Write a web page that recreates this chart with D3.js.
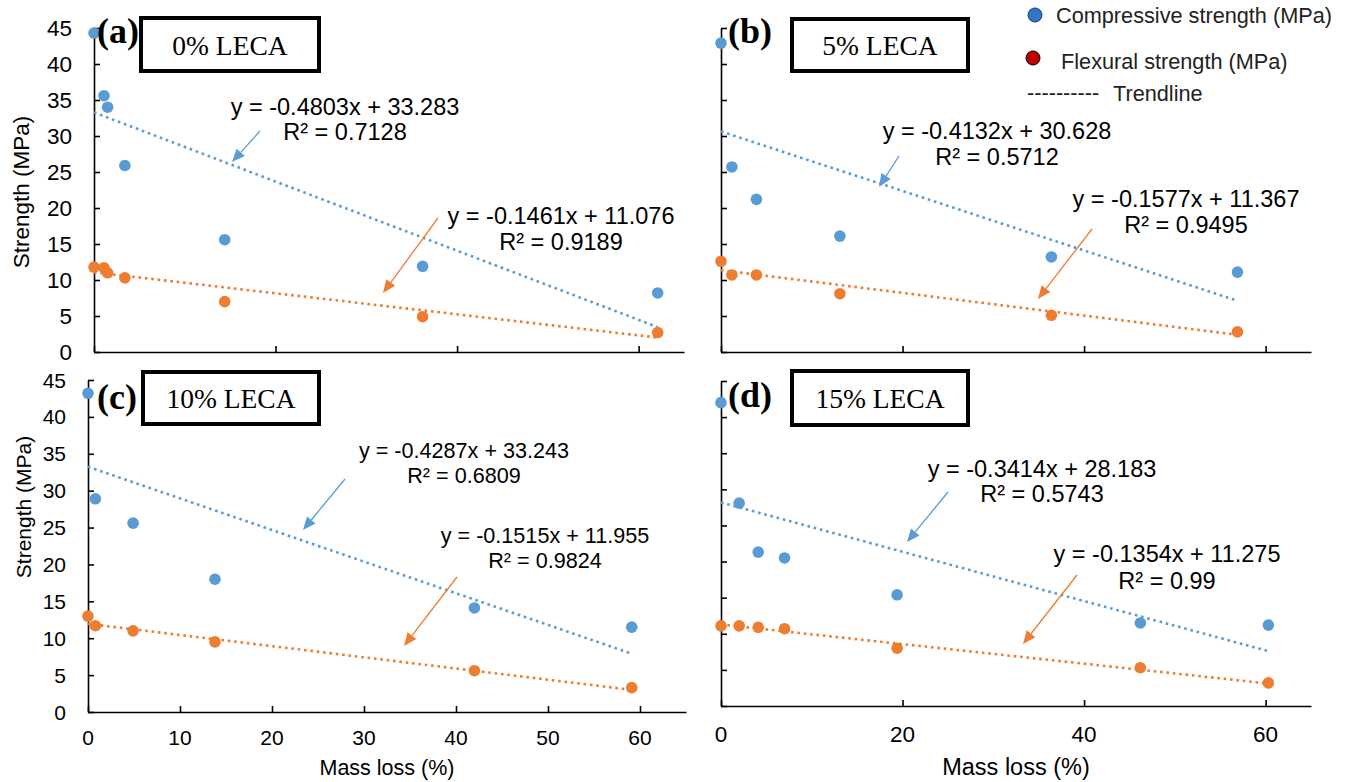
<!DOCTYPE html>
<html>
<head>
<meta charset="utf-8">
<script src="https://cdn.jsdelivr.net/npm/d3@7"></script>
<style>
  body { margin: 0; background: #fff; }
  svg { display: block; }
  text { font-family: "Liberation Sans", Arial, sans-serif; fill: #000; }
</style>
</head>
<body>
<div id="chart"></div>
<script>
// values
const massA = [0, 1.1, 1.5, 3.4, 14.4, 36.2, 62.1]
const compA = [44.3, 35.6, 34.0, 25.9, 15.6, 11.9, 8.2]
const flexA = [11.8, 11.7, 11.0, 10.3, 7.0, 4.9, 2.7]

const massB = [0, 1.2, 3.9, 13.1, 36.4, 56.9]
const compB = [42.9, 25.7, 21.2, 16.1, 13.2, 11.1]
const flexB = [12.6, 10.7, 10.7, 8.1, 5.1, 2.8]

const massC = [0, 0.8, 4.9, 13.8, 42.0, 59.1]
const compC = [43.2, 28.9, 25.6, 18.0, 14.1, 11.5]
const flexC = [13.0, 11.7, 11.0, 9.5, 5.6, 3.3]

const massD = [0, 2.0, 4.1, 7.0, 19.4, 46.2, 60.3]
const compD = [42.0, 28.1, 21.3, 20.5, 15.4, 11.5, 11.2]
const flexD = [11.1, 11.1, 10.9, 10.7, 8.0, 5.3, 3.2]

const compSlope = [-0.4803, -0.4132, -0.4287, -0.3414]
const compIntercept = [33.283, 30.628, 33.243, 28.183]
const compR2 = ['0.7128', '0.5712', '0.6809', '0.5743']
const flexSlope = [-0.1461, -0.1577, -0.1515, -0.1354]
const flexIntercept = [11.076, 11.367, 11.955, 11.275]
const flexR2 = ['0.9189', '0.9495', '0.9824', '0.99']

const panelLabels = ['(a)', '(b)', '(c)', '(d)']
const lecaLabels = ['0% LECA', '5% LECA', '10% LECA', '15% LECA']
const yTicks = [0, 5, 10, 15, 20, 25, 30, 35, 40, 45]
const xTicksWide = [0, 20, 40, 60]
const xTicksFine = [0, 10, 20, 30, 40, 50, 60]
const legendLabels = ['Compressive strength (MPa)', 'Flexural strength (MPa)', 'Trendline']

const W = 1349
const H = 782
const BLUE = '#5b9bd5'
const ORANGE = '#ed7d31'

const svg = d3.select('#chart').append('svg').attr('width', W).attr('height', H)

// layout of each panel (pixel boxes, label spots, annotation spots)
const panels = [
  {
    mass: massA, comp: compA, flex: flexA,
    xr: [94, 684], yr: [352, 28], xTicks: xTicksWide, showX: false, showY: true,
    fs: 22.5, eqFs: 23.5, yTitle: { x: 28.5, y: 192, fs: 22.5 },
    label: [97, 43], box: [141, 18, 178, 53], boxText: [230, 55],
    compEq: [345, 115, 140], compArrow: [260, 131, 232, 162],
    flexEq: [561, 224, 250], flexArrow: [438, 218, 383, 293]
  },
  {
    mass: massB, comp: compB, flex: flexB,
    xr: [721, 1311], yr: [352, 28], xTicks: xTicksWide, showX: false, showY: false,
    fs: 22.5, eqFs: 23.5,
    label: [728, 43], box: [792, 19, 176, 52], boxText: [880, 55],
    compEq: [997, 139, 165], compArrow: [899, 156, 879, 187],
    flexEq: [1186, 207, 233], flexArrow: [1092, 229, 1038, 299]
  },
  {
    mass: massC, comp: compC, flex: flexC,
    xr: [88, 686], yr: [712, 380], xTicks: xTicksFine, showX: true, showY: true,
    fs: 21, eqFs: 21.6, yTitle: { x: 30.5, y: 507, fs: 21 },
    xTitle: { x: 387, y: 775, fs: 21.5 }, xLabelY: 745,
    label: [97, 409], box: [143, 372, 176, 52], boxText: [231, 408],
    compEq: [464, 458, 483], compArrow: [345, 479, 303, 530],
    flexEq: [545, 543, 568], flexArrow: [457, 577, 404, 646]
  },
  {
    mass: massD, comp: compD, flex: flexD,
    xr: [721, 1311], yr: [706, 381], xTicks: xTicksWide, showX: true, showY: false,
    fs: 22.5, eqFs: 23.5,
    xTitle: { x: 1016, y: 775, fs: 23.5 }, xLabelY: 742,
    label: [728, 407], box: [792, 371, 176, 54], boxText: [880, 408],
    compEq: [1042, 477, 502], compArrow: [948, 492, 907, 542],
    flexEq: [1167, 562, 589], flexArrow: [1077, 575, 1023, 644]
  }
]

function arrow(g, a, color) {
  const [x1, y1, x2, y2] = a
  const ang = Math.atan2(y2 - y1, x2 - x1)
  const len = 13, hw = 5.5
  const bx = x2 - len * Math.cos(ang), by = y2 - len * Math.sin(ang)
  g.append('line').attr('x1', x1).attr('y1', y1).attr('x2', bx).attr('y2', by)
    .attr('stroke', color).attr('stroke-width', 1.3)
  g.append('path')
    .attr('d', d3.line()([
      [x2, y2],
      [bx + hw * Math.sin(ang), by - hw * Math.cos(ang)],
      [bx - hw * Math.sin(ang), by + hw * Math.cos(ang)]
    ]) + 'Z')
    .attr('fill', color)
}

panels.forEach((p, i) => {
  const g = svg.append('g')
  const x = d3.scaleLinear([0, 65], p.xr)
  const y = d3.scaleLinear([0, 45], p.yr)

  // axes, ticks pointing inward
  g.append('g').attr('transform', `translate(${p.xr[0]},0)`)
    .call(d3.axisRight(y).tickValues(yTicks).tickSize(6).tickSizeOuter(0).tickFormat(''))
  g.append('g').attr('transform', `translate(0,${p.yr[0]})`)
    .call(d3.axisTop(x).tickValues(p.xTicks).tickSize(6).tickSizeOuter(0).tickFormat(''))
  g.selectAll('.domain, .tick line').attr('stroke', '#000').attr('stroke-width', 1.6)

  if (p.showY) {
    g.selectAll('.ylab').data(yTicks).enter().append('text')
      .attr('x', p.xr[0] - 22).attr('y', (d) => y(d)).attr('dy', '0.36em')
      .attr('text-anchor', 'end').style('font-size', p.fs + 'px').text((d) => d)
    g.append('text')
      .attr('transform', `translate(${p.yTitle.x},${p.yTitle.y}) rotate(-90)`)
      .attr('text-anchor', 'middle').style('font-size', p.yTitle.fs + 'px')
      .text('Strength (MPa)')
  }
  if (p.showX) {
    g.selectAll('.xlab').data(p.xTicks).enter().append('text')
      .attr('x', (d) => x(d)).attr('y', p.xLabelY)
      .attr('text-anchor', 'middle').style('font-size', p.fs + 'px').text((d) => d)
    g.append('text').attr('x', p.xTitle.x).attr('y', p.xTitle.y)
      .attr('text-anchor', 'middle').style('font-size', p.xTitle.fs + 'px')
      .text('Mass loss (%)')
  }

  // trendlines
  const x0 = d3.min(p.mass), x1 = d3.max(p.mass)
  const fits = [
    [compSlope[i], compIntercept[i], BLUE],
    [flexSlope[i], flexIntercept[i], ORANGE]
  ]
  fits.forEach(([m, b, c]) => {
    g.append('line')
      .attr('x1', x(x0)).attr('y1', y(m * x0 + b))
      .attr('x2', x(x1)).attr('y2', y(m * x1 + b))
      .attr('stroke', c).attr('stroke-width', 2.6).attr('stroke-dasharray', '2.6 3.8')
  })

  // points
  g.selectAll('.cp').data(p.mass).enter().append('circle')
    .attr('cx', (d) => x(d)).attr('cy', (d, k) => y(p.comp[k])).attr('r', 5.8)
    .attr('fill', BLUE)
  g.selectAll('.fp').data(p.mass).enter().append('circle')
    .attr('cx', (d) => x(d)).attr('cy', (d, k) => y(p.flex[k])).attr('r', 5.8)
    .attr('fill', ORANGE)

  // equations
  const eq = (pos, m, b, r2) => {
    g.append('text').attr('x', pos[0]).attr('y', pos[1]).attr('text-anchor', 'middle')
      .style('font-size', p.eqFs + 'px').text(`y = ${m}x + ${b}`)
    g.append('text').attr('x', pos[0]).attr('y', pos[2]).attr('text-anchor', 'middle')
      .style('font-size', p.eqFs + 'px').text(`R² = ${r2}`)
  }
  eq(p.compEq, compSlope[i], compIntercept[i], compR2[i])
  eq(p.flexEq, flexSlope[i], flexIntercept[i], flexR2[i])
  arrow(g, p.compArrow, BLUE)
  arrow(g, p.flexArrow, ORANGE)

  // panel letter and LECA box
  g.append('text').attr('x', p.label[0]).attr('y', p.label[1])
    .style('font-family', '"Liberation Serif", "Times New Roman", serif')
    .style('font-weight', 'bold').style('font-size', '36px').text(panelLabels[i])
  g.append('rect').attr('x', p.box[0]).attr('y', p.box[1])
    .attr('width', p.box[2]).attr('height', p.box[3])
    .attr('fill', '#fff').attr('stroke', '#000').attr('stroke-width', 4)
  g.append('text').attr('x', p.boxText[0]).attr('y', p.boxText[1])
    .attr('text-anchor', 'middle')
    .style('font-family', '"Liberation Serif", "Times New Roman", serif')
    .style('font-size', '27.5px').text(lecaLabels[i])
})

// legend
const lg = svg.append('g')
lg.append('circle').attr('cx', 1035).attr('cy', 15).attr('r', 7)
  .attr('fill', '#2f76c8').attr('stroke', '#1b3f6e').attr('stroke-width', 1)
lg.append('text').attr('x', 1056).attr('y', 22.5).style('font-size', '21.7px')
  .style('fill', '#222').text(legendLabels[0])
lg.append('circle').attr('cx', 1033).attr('cy', 58).attr('r', 7)
  .attr('fill', '#c00000').attr('stroke', '#000').attr('stroke-width', 1)
lg.append('text').attr('x', 1061).attr('y', 69).style('font-size', '21.7px')
  .style('fill', '#222').text(legendLabels[1])
lg.append('text').attr('x', 1027).attr('y', 100).style('font-size', '21.7px')
  .style('fill', '#222').text('----------')
lg.append('text').attr('x', 1113).attr('y', 101).style('font-size', '21.7px')
  .style('fill', '#222').text(legendLabels[2])
</script>
</body>
</html>
